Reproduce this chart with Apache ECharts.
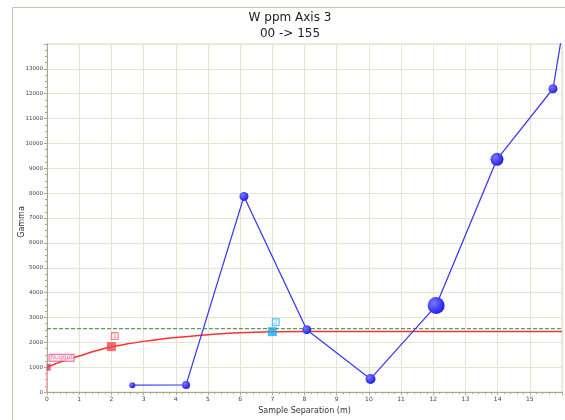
<!DOCTYPE html>
<html>
<head>
<meta charset="utf-8">
<script src="https://cdn.jsdelivr.net/npm/echarts@6/dist/echarts.min.js"></script>
<style>html,body{margin:0;padding:0;background:#fff}#c{width:565px;height:420px}</style>
</head>
<body>
<div id="c"></div>
<script>
// Experimental variogram points (lag, gamma)
var lagX = [2.65, 4.32, 6.12, 8.07, 10.05, 12.09, 13.98, 15.72, 17.6];
var gammaY = [280, 290, 7870, 2510, 530, 3480, 9360, 12200, 26800];
var markerSizes = [6, 8, 9, 9, 10, 17, 13, 9, 9];
// Model curve
var modelX = [0, 0.05, 0.25, 0.5, 0.75, 1, 1.5, 2, 2.5, 3, 3.5, 4, 5, 6, 7, 8, 9, 16];
var modelY = [1000, 1030, 1130, 1250, 1350, 1450, 1650, 1820, 1940, 2040, 2130, 2200, 2310, 2390, 2430, 2440, 2440, 2440];
// Handles
var handleNames = ['Nugget', '1', '2'];
var handleX = [0.05, 2, 7];
var handleY = [1000, 1830, 2430];
var sampleVariance = 2550;
var titleLines = ['W ppm Axis 3', '00 -> 155'];
var axisTitles = ['Sample Separation (m)', 'Gamma'];

var chart = echarts.init(document.getElementById('c'));
var font = 'DejaVu Sans';
var blueGrad = {type:'radial', x:0.35, y:0.35, r:0.7, colorStops:[{offset:0,color:'#7878ff'},{offset:1,color:'#1c1ce8'}]};
var handleColors = ['#e0407a', '#f04848', '#22aaee'];
var handleBorders = ['#e0407a', '#f06060', '#22aaee'];

var expData = lagX.map(function(x,i){return [x, gammaY[i]];});
var modelData = modelX.map(function(x,i){return [x, modelY[i]];});

var handleSeries = handleNames.map(function(n,i){
  return {
    type:'scatter', name:n, symbol:'rect', symbolSize: i===0 ? [4,7] : [9,9],
    itemStyle:{color:handleColors[i]}, z:5,
    data:[[handleX[i], handleY[i]]],
    label:{show:true, formatter:n, position: i===2 ? [5,-8] : (i===0 ? [3,-9] : [5,-9]), fontSize:6, fontFamily:font,
      color:handleColors[i], backgroundColor:'#fff', borderColor:handleBorders[i], borderWidth:1, padding:[0,1,0,1]}
  };
});

chart.setOption({
  animation:false,
  backgroundColor:'#fff',
  graphic:[
    {type:'rect', shape:{x:12.5,y:7.5,width:600,height:500}, style:{fill:'none', stroke:'#c4c4ac', lineWidth:1}, z:-10},
    {type:'text', x:290, y:18, style:{text:titleLines[0], fontSize:12, fontFamily:font, fill:'#222', align:'center', verticalAlign:'middle'}},
    {type:'text', x:290, y:34, style:{text:titleLines[1], fontSize:12, fontFamily:font, fill:'#222', align:'center', verticalAlign:'middle'}},
    {type:'text', x:22, y:222, rotation:Math.PI/2, style:{text:axisTitles[1], fontSize:8, fontFamily:font, fill:'#333', align:'center', verticalAlign:'middle'}}
  ],
  grid:{left:47, right:3, top:44, bottom:25, show:true, borderColor:'#d8d8c0', borderWidth:1},
  xAxis:{type:'value', min:0, max:16, interval:1,
    name:axisTitles[0], nameLocation:'middle', nameGap:13, nameTextStyle:{fontSize:8, fontFamily:font, color:'#333'},
    axisLine:{show:true, lineStyle:{color:'#a8a890'}}, axisTick:{show:true, length:3, lineStyle:{color:'#a8a890'}},
    minorTick:{show:true, splitNumber:5, length:2, lineStyle:{color:'#a8a890'}},
    axisLabel:{fontSize:6, fontFamily:font, color:'#444', margin:4, showMaxLabel:false},
    splitLine:{show:true, lineStyle:{color:'#e4e4d0'}}},
  yAxis:{type:'value', min:0, max:14000, interval:1000,
    axisLine:{show:true, lineStyle:{color:'#a8a890'}}, axisTick:{show:true, length:3, lineStyle:{color:'#a8a890'}},
    minorTick:{show:true, splitNumber:4, length:2, lineStyle:{color:'#a8a890'}},
    axisLabel:{fontSize:5.5, fontFamily:font, color:'#444', margin:4, showMaxLabel:false, formatter:function(v){return String(v);}},
    splitLine:{show:true, lineStyle:{color:'#e4e4d0'}}},
  series:[
    {type:'line', name:'nuggetLine', data:[[0,0],[0,handleY[0]]], symbol:'none', lineStyle:{color:'#f4a4a4', width:1.5}, z:2},
    {type:'line', name:'variance', data:[[0,sampleVariance],[16,sampleVariance]], symbol:'none',
      lineStyle:{color:'#2e8b2e', width:1, type:[4,2]}, z:2},
    {type:'line', name:'model', data:modelData, smooth:0.3, symbol:'none', lineStyle:{color:'#ff3030', width:1.5}, z:3},
    {type:'line', name:'experimental', data:expData, clip:true, symbol:'circle',
      symbolSize:function(v, p){return markerSizes[p.dataIndex];},
      lineStyle:{color:'#3c3cf0', width:1.3}, itemStyle:{color:blueGrad}, z:4}
  ].concat(handleSeries)
});
</script>
</body>
</html>
